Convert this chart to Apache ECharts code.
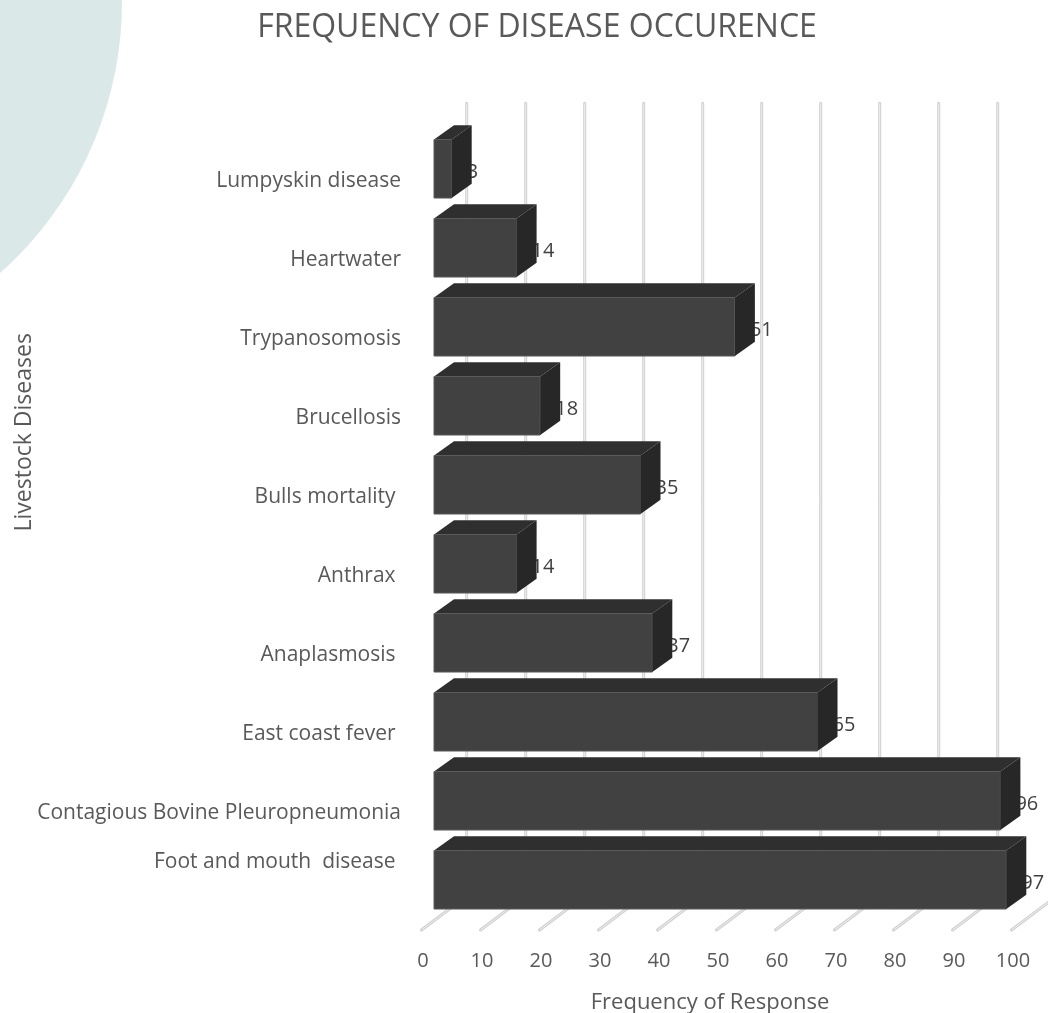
<!DOCTYPE html>
<html>
<head>
<meta charset="utf-8">
<title>Frequency of Disease Occurence</title>
<script src="https://cdn.jsdelivr.net/npm/echarts@6/dist/echarts.min.js"></script>
<style>
  html, body { margin: 0; padding: 0; background: #ffffff; }
  #chart { width: 1048px; height: 1013px; }
</style>
</head>
<body>
<div id="chart"></div>
<script>
// Livestock diseases, top to bottom
const diseases = [
  'Lumpyskin disease',
  'Heartwater',
  'Trypanosomosis',
  'Brucellosis',
  'Bulls mortality ',
  'Anthrax ',
  'Anaplasmosis ',
  'East coast fever ',
  'Contagious Bovine Pleuropneumonia',
  'Foot and mouth  disease '
];
// Frequency of response for each disease
const responses = [3, 14, 51, 18, 35, 14, 37, 65, 96, 97];
// Value-axis ticks (back wall grid lines)
const valueTicks = [0, 10, 20, 30, 40, 50, 60, 70, 80, 90, 100];

const FONT = '"Open Sans", "Noto Sans", sans-serif';
const TEXT = '#595959';

// oblique depth used for the boxes and for the wall/floor
const BAR_DX = 20, BAR_DY = -14.3;
const WALL_DX = 32.7;

function renderGridLine(params, api) {
  const cs = params.coordSys;
  const x = api.coord([api.value(0), 0])[0];
  const bottom = cs.y + cs.height;
  const bx = x + WALL_DX;
  const pts = [[x - 12.5, bottom + 10.7], [bx, bottom - 23.3], [bx, cs.y - 26]];
  return {
    type: 'group',
    children: [
      { type: 'polyline', shape: { points: pts },
        style: { stroke: '#d0d0d0', lineWidth: 3, fill: null, lineCap: 'round', lineJoin: 'round' } },
      { type: 'polyline', shape: { points: pts },
        style: { stroke: '#efefef', lineWidth: 1, fill: null } }
    ]
  };
}

function renderBar(params, api) {
  const v = api.value(0);
  const idx = api.value(1);
  const base = api.coord([0, idx]);
  const end = api.coord([v, idx]);
  const band = api.size([0, 1])[1];
  const h = band * 0.74;
  const x0 = base[0], x1 = end[0];
  const yT = base[1] - h / 2, yB = base[1] + h / 2;
  return {
    type: 'group',
    children: [
      { type: 'polygon',
        shape: { points: [[x0, yT], [x0 + BAR_DX, yT + BAR_DY], [x1 + BAR_DX, yT + BAR_DY], [x1, yT]] },
        style: { fill: '#2f2f2f' } },
      { type: 'rect',
        shape: { x: x0, y: yT, width: x1 - x0, height: h },
        style: { fill: '#414141', stroke: '#5a5a5a', lineWidth: 1 } },
      { type: 'text',
        style: { text: String(v), x: x1 + 15, y: base[1] + 3, align: 'left', verticalAlign: 'middle',
                 fontFamily: FONT, fontSize: 20, fill: '#404040' } },
      { type: 'polygon',
        shape: { points: [[x1, yT], [x1 + BAR_DX, yT + BAR_DY], [x1 + BAR_DX, yB + BAR_DY], [x1, yB]] },
        style: { fill: '#272727' } }
    ]
  };
}

const chart = echarts.init(document.getElementById('chart'), null, { renderer: 'canvas' });

chart.setOption({
  backgroundColor: '#ffffff',
  animation: false,
  graphic: [{
    type: 'circle',
    silent: true,
    z: -10,
    shape: { cx: -240, cy: 2, r: 362 },
    style: { fill: '#dbe8e8' }
  }],
  title: {
    text: 'FREQUENCY OF DISEASE OCCURENCE',
    left: 537,
    top: 12,
    padding: 0,
    textAlign: 'center',
    textStyle: { fontFamily: FONT, fontSize: 32, fontWeight: 'normal', color: TEXT }
  },
  grid: { left: 434, right: 24, top: 129.3, bottom: 93.7, outerBoundsMode: 'none', containLabel: false },
  xAxis: {
    type: 'value',
    min: 0,
    max: 100,
    interval: 10,
    axisLine: { show: false },
    axisTick: { show: false },
    splitLine: { show: false },
    axisLabel: {
      margin: 32,
      padding: [0, 22, 0, 0],
      fontFamily: FONT, fontSize: 20, color: TEXT
    },
    name: 'Frequency of Response',
    nameLocation: 'middle',
    nameGap: 72,
    nameMoveOverlap: false,
    nameTextStyle: { fontFamily: FONT, fontSize: 22, color: TEXT, padding: [0, 38, 0, 0] }
  },
  yAxis: {
    type: 'category',
    data: diseases,
    inverse: true,
    axisLine: { show: false },
    axisTick: { show: false },
    axisLabel: {
      margin: 33,
      formatter: (val, i) => (i === diseases.length - 1 ? '{b|' + val + '}' : '{a|' + val + '}'),
      rich: {
        a: { fontFamily: FONT, fontSize: 21, color: TEXT, padding: [24, 0, 0, 0] },
        b: { fontFamily: FONT, fontSize: 21, color: TEXT, padding: [0, 0, 36, 0] }
      }
    },
    name: 'Livestock Diseases',
    nameLocation: 'middle',
    nameRotate: 90,
    nameGap: 398,
    nameMoveOverlap: false,
    nameTextStyle: { fontFamily: FONT, fontSize: 23, color: TEXT, padding: [0, 0, 0, 184] }
  },
  series: [
    {
      type: 'custom',
      name: 'grid',
      z: 1,
      silent: true,
      renderItem: renderGridLine,
      encode: { x: 0, y: 1 },
      data: valueTicks.map(v => [v, 0])
    },
    {
      type: 'custom',
      name: 'Frequency of Response',
      z: 3,
      renderItem: renderBar,
      encode: { x: 0, y: 1 },
      data: responses.map((v, i) => [v, i])
    }
  ]
});
</script>
</body>
</html>
